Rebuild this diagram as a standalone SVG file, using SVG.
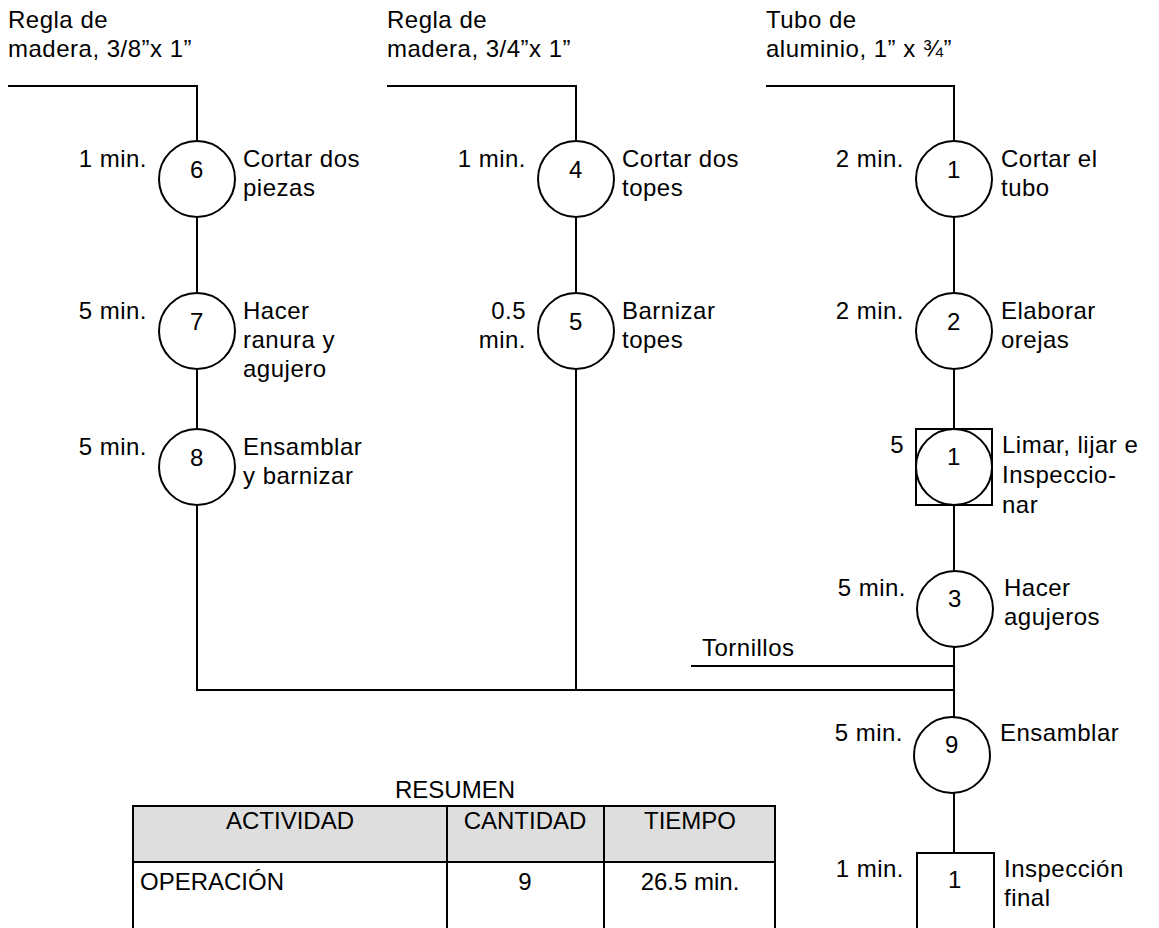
<svg xmlns="http://www.w3.org/2000/svg" width="1159" height="928" viewBox="0 0 1159 928">
<style>
text{font-family:"Liberation Sans",Arial,sans-serif;font-size:24px;letter-spacing:0.5px;fill:#000}
.c{text-anchor:middle}
.r{text-anchor:end}
.t{letter-spacing:0}
line,polyline{stroke:#000;stroke-width:2;fill:none}
circle,rect.op{stroke:#000;stroke-width:2;fill:#fff}
</style>
<rect width="1159" height="928" fill="#fff"/>
<g id="connectors">
<polyline points="8,86 197,86 197,141"/>
<line x1="197" y1="217" x2="197" y2="293"/>
<line x1="197" y1="369" x2="197" y2="429"/>
<polyline points="197,505 197,690 954,690"/>
<polyline points="387,86 576,86 576,141"/>
<line x1="576" y1="217" x2="576" y2="293"/>
<line x1="576" y1="369" x2="576" y2="690"/>
<polyline points="766,86 954,86 954,141"/>
<line x1="954" y1="217" x2="954" y2="293"/>
<line x1="954" y1="369" x2="954" y2="429"/>
<line x1="954" y1="505" x2="954" y2="571"/>
<line x1="954" y1="647" x2="954" y2="717"/>
<line x1="691" y1="666" x2="954" y2="666"/>
<line x1="954" y1="793" x2="954" y2="853"/>
</g>
<g id="materials">
<text x="8" y="28">Regla de</text><text x="8" y="57">madera, 3/8”x 1”</text>
<text x="387" y="28">Regla de</text><text x="387" y="57">madera, 3/4”x 1”</text>
<text x="766" y="28">Tubo de</text><text x="766" y="57">aluminio, 1” x ¾”</text>
<text x="702" y="656">Tornillos</text>
</g>
<g id="op6"><circle cx="197" cy="179" r="38"/><text class="c" x="197" y="178">6</text><text class="r" x="147" y="167">1 min.</text><text x="243" y="167">Cortar dos</text><text x="243" y="196">piezas</text></g>
<g id="op7"><circle cx="197" cy="331" r="38"/><text class="c" x="197" y="330">7</text><text class="r" x="147" y="319">5 min.</text><text x="243" y="319">Hacer</text><text x="243" y="348">ranura y</text><text x="243" y="377">agujero</text></g>
<g id="op8"><circle cx="197" cy="467" r="38"/><text class="c" x="197" y="466">8</text><text class="r" x="147" y="455">5 min.</text><text x="243" y="455">Ensamblar</text><text x="243" y="484">y barnizar</text></g>
<g id="op4"><circle cx="576" cy="179" r="38"/><text class="c" x="576" y="178">4</text><text class="r" x="526" y="167">1 min.</text><text x="622" y="167">Cortar dos</text><text x="622" y="196">topes</text></g>
<g id="op5"><circle cx="576" cy="331" r="38"/><text class="c" x="576" y="330">5</text><text class="r" x="526" y="319">0.5</text><text class="r" x="526" y="348">min.</text><text x="622" y="319">Barnizar</text><text x="622" y="348">topes</text></g>
<g id="op1"><circle cx="954" cy="179" r="38"/><text class="c" x="954" y="178">1</text><text class="r" x="904" y="167">2 min.</text><text x="1001" y="167">Cortar el</text><text x="1001" y="196">tubo</text></g>
<g id="op2"><circle cx="954" cy="331" r="38"/><text class="c" x="954" y="330">2</text><text class="r" x="904" y="319">2 min.</text><text x="1001" y="319">Elaborar</text><text x="1001" y="348">orejas</text></g>
<g id="comb1"><rect class="op" x="916" y="429" width="76" height="76"/><circle cx="954" cy="467" r="38" fill="none"/><text class="c" x="954" y="465">1</text><text class="r" x="904" y="453">5</text><text x="1002" y="453">Limar, lijar e</text><text x="1002" y="483">Inspeccio-</text><text x="1002" y="513">nar</text></g>
<g id="op3"><circle cx="955" cy="609" r="38"/><text class="c" x="955" y="607">3</text><text class="r" x="906" y="596">5 min.</text><text x="1004" y="596">Hacer</text><text x="1004" y="625">agujeros</text></g>
<g id="op9"><circle cx="952" cy="755" r="38"/><text class="c" x="952" y="753">9</text><text class="r" x="903" y="741">5 min.</text><text x="1000" y="741">Ensamblar</text></g>
<g id="insp1"><rect class="op" x="917" y="853" width="77" height="90"/><text class="c" x="955" y="888">1</text><text class="r" x="904" y="877">1 min.</text><text x="1004" y="877">Inspección</text><text x="1004" y="906">final</text></g>
<g id="resumen">
<text class="c t" x="455" y="798">RESUMEN</text>
<rect x="133" y="806" width="642" height="56" fill="#dedede" stroke="none"/>
<polyline points="133,940 133,806 775,806 775,940"/>
<line x1="133" y1="862" x2="775" y2="862"/>
<line x1="447" y1="806" x2="447" y2="940"/>
<line x1="604" y1="806" x2="604" y2="940"/>
<text class="c t" x="290" y="829">ACTIVIDAD</text>
<text class="c t" x="525" y="829">CANTIDAD</text>
<text class="c t" x="690" y="829">TIEMPO</text>
<text class="t" x="140" y="890">OPERACIÓN</text>
<text class="c t" x="525" y="890">9</text>
<text class="c t" x="690" y="890">26.5 min.</text>
</g>
</svg>
